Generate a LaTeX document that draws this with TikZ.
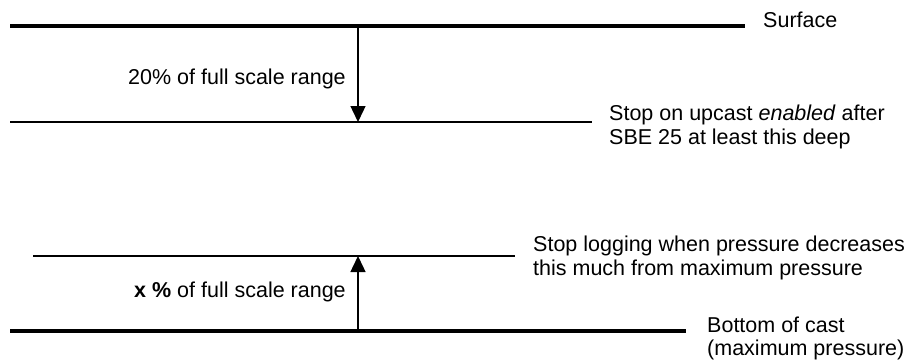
\documentclass[tikz,border=0pt]{standalone}
\usepackage{fontspec}
\setmainfont{Liberation Sans}
\usetikzlibrary{arrows.meta}
\begin{document}
\begin{tikzpicture}[x=1pt,y=-1pt,
  thickline/.style={line width=3.5pt},
  thinline/.style={line width=1.8pt},
  measure/.style={line width=1.4pt,-{Triangle[width=15pt,length=16pt]}},
  lbl/.style={anchor=west,inner sep=0pt,align=left,font=\fontsize{21.5}{24}\selectfont}]
\useasboundingbox (0,0) rectangle (911,362);
% level lines
\coordinate (s1) at (10,26);  \coordinate (s2) at (745,26);
\coordinate (u1) at (10,122); \coordinate (u2) at (592,122);
\coordinate (l1) at (33,256); \coordinate (l2) at (515,256);
\coordinate (b1) at (10,331); \coordinate (b2) at (686,331);
\draw[thickline] (s1) -- (s2);
\draw[thinline] (u1) -- (u2);
\draw[thinline] (l1) -- (l2);
\draw[thickline] (b1) -- (b2);
% arrows
\coordinate (a1) at (358,26);  \coordinate (a2) at (358,122);
\coordinate (c1) at (358,331); \coordinate (c2) at (358,256);
\draw[measure] (a1) -- (a2);
\draw[measure] (c1) -- (c2);
% labels
\node[lbl] (surf) at (763,20) {Surface};
\node[lbl] (up) at (609,127) {Stop on upcast \textit{enabled} after\\SBE 25 at least this deep};
\node[lbl] (twenty) at (128,79) {20\% of full scale range};
\node[lbl] (stoplog) at (533,258) {Stop logging when pressure decreases\\this much from maximum pressure};
\node[lbl] (xpct) at (134,292) {\textbf{x \%} of full scale range};
\node[lbl,font=\fontsize{21.5}{23}\selectfont] (bottom) at (707,338.5) {Bottom of cast\\(maximum pressure)};
\end{tikzpicture}
\end{document}
